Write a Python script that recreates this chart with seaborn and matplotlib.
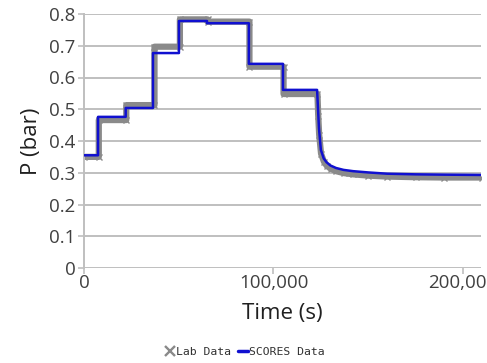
import numpy as np
import pandas as pd
import matplotlib
matplotlib.use("Agg")
import matplotlib.pyplot as plt
from matplotlib.lines import Line2D
from matplotlib.ticker import FuncFormatter, FixedLocator
import seaborn as sns

# --- pressure steps (time in s, pressure in bar) ---
score_step_times = [0, 7400, 22000, 36400, 50100, 64900, 87000, 105000, 123000]
score_step_levels = [0.355, 0.476, 0.504, 0.677, 0.778, 0.771, 0.643, 0.561]
# relaxation after the last step
score_decay_times = [123500, 124000, 125000, 126500, 128000, 130000, 133000,
                     137000, 142000, 150000, 160000, 175000, 190000, 210000]
score_decay_p = [0.50, 0.44, 0.372, 0.345, 0.333, 0.323, 0.315,
                 0.309, 0.305, 0.301, 0.297, 0.295, 0.294, 0.293]

lab_step_times = [0, 7800, 22300, 37200, 50600, 65200, 87300, 105300, 123200]
lab_step_levels = [0.350, 0.466, 0.513, 0.697, 0.783, 0.776, 0.634, 0.548]
lab_decay_times = [123600, 124100, 125100, 126600, 128100, 130100, 133000,
                   137000, 142000, 150000, 160000, 175000, 190000, 210000]
lab_decay_p = [0.48, 0.42, 0.36, 0.335, 0.322, 0.313, 0.305,
               0.299, 0.295, 0.291, 0.288, 0.286, 0.285, 0.285]

y_ticks = [0, 0.1, 0.2, 0.3, 0.4, 0.5, 0.6, 0.7, 0.8]
x_ticks = [0, 100000, 200000]


def step_path(times, levels, decay_t, decay_p):
    xs, ys = [], []
    for i, lev in enumerate(levels):
        xs += [times[i], times[i + 1]]
        ys += [lev, lev]
    xs += list(decay_t)
    ys += list(decay_p)
    return pd.DataFrame({"t": xs, "p": ys})


score_df = step_path(score_step_times, score_step_levels, score_decay_times, score_decay_p)
lab_df = step_path(lab_step_times, lab_step_levels, lab_decay_times, lab_decay_p)

sns.set_style("white")
plt.rcParams["font.family"] = ["Open Sans", "DejaVu Sans"]

fig = plt.figure(figsize=(4.87, 3.63), dpi=100)
ax = fig.add_axes([84 / 487, 1 - 268 / 363, (481 - 84) / 487, (268 - 14) / 363])

grid_c = "#bfbfbf"
for y in y_ticks:
    ax.axhline(y, color=grid_c, lw=1.4, zorder=0)

lab_c = "#8a8a8a"
sns.lineplot(data=lab_df, x="t", y="p", ax=ax, estimator=None, sort=False,
             color=lab_c, lw=4.5, marker="x", markersize=4, mew=1,
             markeredgecolor=lab_c, zorder=2)
sns.lineplot(data=score_df, x="t", y="p", ax=ax, estimator=None, sort=False,
             color="#1010d0", lw=1.8, zorder=3)

ax.set_xlim(0, 209500)
ax.set_ylim(0, 0.8)
ax.yaxis.set_major_locator(FixedLocator(y_ticks))
ax.xaxis.set_major_locator(FixedLocator(x_ticks))
ax.yaxis.set_major_formatter(FuncFormatter(lambda v, p: "0" if v == 0 else f"{v:.1f}"))
ax.xaxis.set_major_formatter(FuncFormatter(lambda v, p: f"{int(v):,}"))

for s in ["top", "right", "bottom"]:
    ax.spines[s].set_visible(False)
ax.spines["left"].set_color(grid_c)
ax.spines["left"].set_linewidth(1.4)

ax.tick_params(axis="y", length=4, color=grid_c, width=1.2, labelsize=13.5,
               labelcolor="#404040", pad=2, left=True)
ax.tick_params(axis="x", length=4, color=grid_c, width=1.2, labelsize=13.5,
               labelcolor="#404040", pad=0, bottom=True)
for lbl in ax.get_xticklabels():
    lbl.set_clip_on(False)

ax.set_ylabel("P (bar)", fontsize=16, color="#202020", labelpad=5)
ax.set_xlabel("Time (s)", fontsize=16, color="#202020", labelpad=8)

handles = [
    Line2D([], [], color=lab_c, marker="x", linestyle="none", markersize=6.5, mew=1.7),
    Line2D([], [], color="#1010d0", lw=2.5),
]
fig.legend(handles, ["Lab Data", "SCORES Data"], loc="center",
           bbox_to_anchor=(245 / 487, 1 - 352 / 363), ncol=2, frameon=False,
           prop={"family": "DejaVu Sans Mono", "size": 8.2}, handlelength=0.9,
           handletextpad=0.1, columnspacing=0.6, labelcolor="#303030")

fig.savefig("out.png", dpi=100)
